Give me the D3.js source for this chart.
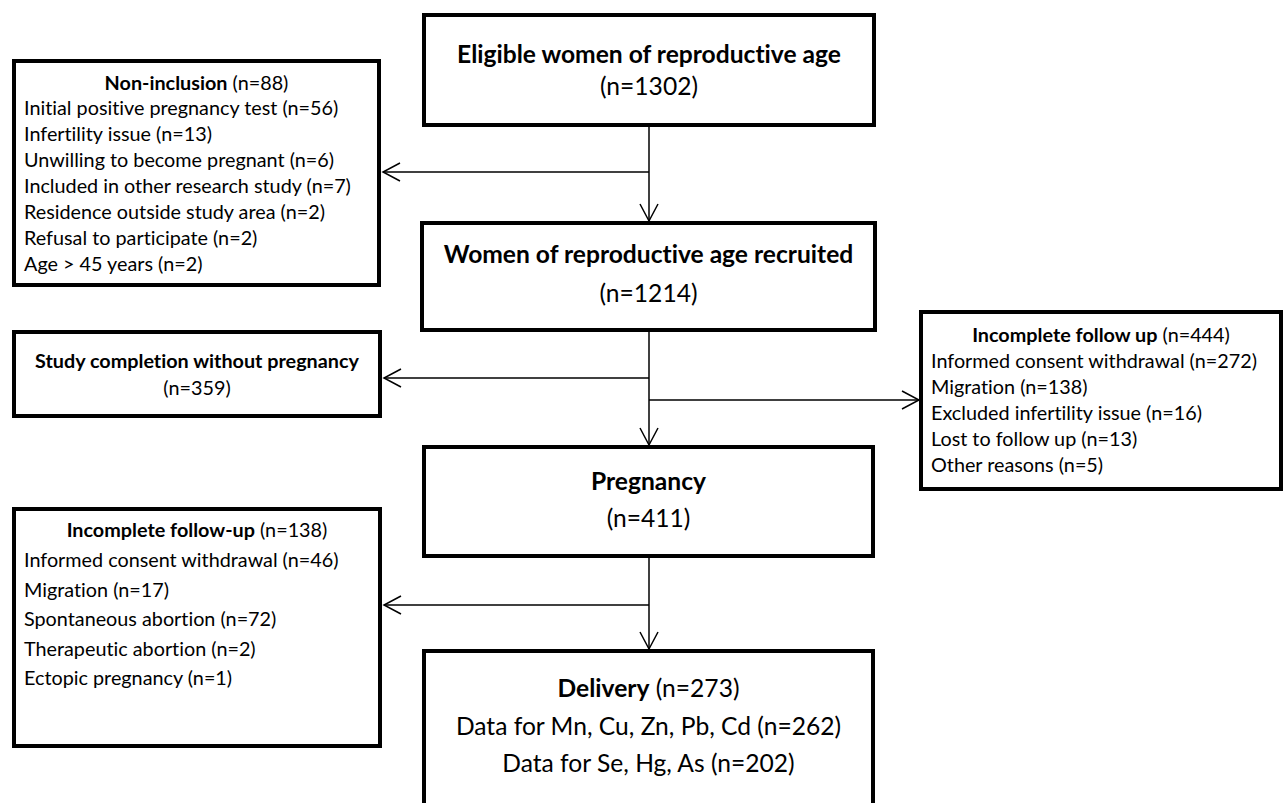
<!DOCTYPE html>
<html>
<head>
<meta charset="utf-8">
<script src="https://cdn.jsdelivr.net/npm/d3@7"></script>
<style>
  body { margin: 0; background: #fff; }
  svg { display: block; }
  text {
    font-family: Lato, "Open Sans", sans-serif;
    fill: #000;
    font-variant-ligatures: none;
    font-feature-settings: "liga" 0, "clig" 0, "dlig" 0;
  }
</style>
</head>
<body>
<div id="flow"></div>
<script>
// Data
var stageLabels = ["Eligible women of reproductive age", "Women of reproductive age recruited", "Pregnancy", "Delivery"];
var stageCounts = [1302, 1214, 411, 273];
var deliveryDataLabels = ["Data for Mn, Cu, Zn, Pb, Cd", "Data for Se, Hg, As"];
var deliveryDataCounts = [262, 202];

var exitTitles = ["Non-inclusion", "Study completion without pregnancy", "Incomplete follow up", "Incomplete follow-up"];
var exitCounts = [88, 359, 444, 138];

var nonInclusionReasons = ["Initial positive pregnancy test", "Infertility issue", "Unwilling to become pregnant",
  "Included in other research study", "Residence outside study area", "Refusal to participate", "Age > 45 years"];
var nonInclusionCounts = [56, 13, 6, 7, 2, 2, 2];

var followUpReasons = ["Informed consent withdrawal", "Migration", "Excluded infertility issue", "Lost to follow up", "Other reasons"];
var followUpCounts = [272, 138, 16, 13, 5];

var pregnancyReasons = ["Informed consent withdrawal", "Migration", "Spontaneous abortion", "Therapeutic abortion", "Ectopic pregnancy"];
var pregnancyCounts = [46, 17, 72, 2, 1];

var svgWidth = 1288;
var svgHeight = 803;

var svg = d3.select("#flow")
  .append("svg")
  .attr("width", svgWidth)
  .attr("height", svgHeight);

var nText = function (n) { return "(n=" + n + ")"; };

// Layout of the boxes (stroke centre lines)
var spineX = 649;
var stageBoxes = [
  { x0: 424, y0: 15, x1: 874, y1: 125, lines: [63, 95] },
  { x0: 422, y0: 223, x1: 875, y1: 330, lines: [263, 302] },
  { x0: 424, y0: 447, x1: 873, y1: 556, lines: [490, 527] },
  { x0: 424, y0: 651, x1: 873, y1: 830, lines: [697, 735, 772] }
];
var exitBoxes = [
  { x0: 14, y0: 61, x1: 379, y1: 285, title: 90, first: 115, step: 26, textX: 24, reasons: nonInclusionReasons, counts: nonInclusionCounts },
  { x0: 14, y0: 332, x1: 380, y1: 416, title: 368, first: 395, step: 0, textX: 0, reasons: null, counts: null },
  { x0: 921, y0: 312, x1: 1281, y1: 489, title: 342, first: 368, step: 26, textX: 931, reasons: followUpReasons, counts: followUpCounts },
  { x0: 14, y0: 509, x1: 380, y1: 746, title: 537, first: 567, step: 29.5, textX: 24, reasons: pregnancyReasons, counts: pregnancyCounts }
];

var bigSize = 24.6;
var smallSize = 19.8;

// Connectors: vertical spine segments with side branches
var links = [
  { from: 0, to: 1, branches: [{ y: 172, x: 383 }] },
  { from: 1, to: 2, branches: [{ y: 378, x: 384 }, { y: 400, x: 919 }] },
  { from: 2, to: 3, branches: [{ y: 605, x: 384 }] }
];

var lineGroup = svg.append("g")
  .attr("fill", "none")
  .attr("stroke", "#000")
  .attr("stroke-width", 1.5);

function arrowHead(x, y, dir) {
  // open V arrow, tip at (x, y)
  var len = 17, half = 9;
  var p = d3.path();
  if (dir === "down") {
    p.moveTo(x - half, y - len); p.lineTo(x, y); p.lineTo(x + half, y - len);
  } else if (dir === "left") {
    p.moveTo(x + len, y - half); p.lineTo(x, y); p.lineTo(x + len, y + half);
  } else {
    p.moveTo(x - len, y - half); p.lineTo(x, y); p.lineTo(x - len, y + half);
  }
  return p.toString();
}

links.forEach(function (l) {
  var top = stageBoxes[l.from].y1 + 2;
  var bottom = stageBoxes[l.to].y0 - 2;
  lineGroup.append("line")
    .attr("x1", spineX).attr("x2", spineX)
    .attr("y1", top).attr("y2", bottom);
  lineGroup.append("path").attr("d", arrowHead(spineX, bottom, "down"));

  l.branches.forEach(function (b) {
    lineGroup.append("line")
      .attr("x1", spineX).attr("x2", b.x)
      .attr("y1", b.y).attr("y2", b.y);
    lineGroup.append("path").attr("d", arrowHead(b.x, b.y, b.x < spineX ? "left" : "right"));
  });
});

// Boxes
var allBoxes = stageBoxes.concat(exitBoxes);
svg.append("g")
  .selectAll("rect")
  .data(allBoxes)
  .enter()
  .append("rect")
  .attr("x", d => d.x0)
  .attr("y", d => d.y0)
  .attr("width", d => d.x1 - d.x0)
  .attr("height", d => d.y1 - d.y0)
  .attr("fill", "#fff")
  .attr("stroke", "#000")
  .attr("stroke-width", 4);

// Stage text
var stageText = svg.append("g").attr("text-anchor", "middle");
stageBoxes.forEach(function (b, i) {
  var cx = (b.x0 + b.x1) / 2;
  if (i < 3) {
    stageText.append("text")
      .attr("x", cx).attr("y", b.lines[0])
      .attr("font-size", bigSize).attr("font-weight", 700)
      .text(stageLabels[i]);
    stageText.append("text")
      .attr("x", cx).attr("y", b.lines[1])
      .attr("font-size", bigSize)
      .text(nText(stageCounts[i]));
  } else {
    var t = stageText.append("text")
      .attr("x", cx).attr("y", b.lines[0])
      .attr("font-size", bigSize);
    t.append("tspan").attr("font-weight", 700).text(stageLabels[i]);
    t.append("tspan").text(" " + nText(stageCounts[i]));
    deliveryDataLabels.forEach(function (lab, j) {
      stageText.append("text")
        .attr("x", cx).attr("y", b.lines[j + 1])
        .attr("font-size", bigSize)
        .text(lab + " " + nText(deliveryDataCounts[j]));
    });
  }
});

// Exit box text
var exitText = svg.append("g").attr("font-size", smallSize);
exitBoxes.forEach(function (b, i) {
  var cx = (b.x0 + b.x1) / 2;
  if (b.reasons) {
    var t = exitText.append("text")
      .attr("x", cx).attr("y", b.title)
      .attr("text-anchor", "middle");
    t.append("tspan").attr("font-weight", 700).text(exitTitles[i]);
    t.append("tspan").text(" " + nText(exitCounts[i]));

    exitText.selectAll(null)
      .data(b.reasons)
      .enter()
      .append("text")
      .attr("x", b.textX)
      .attr("y", (d, j) => b.first + j * b.step)
      .text((d, j) => d + " " + nText(b.counts[j]));
  } else {
    exitText.append("text")
      .attr("x", cx).attr("y", b.title)
      .attr("text-anchor", "middle")
      .attr("font-weight", 700)
      .text(exitTitles[i]);
    exitText.append("text")
      .attr("x", cx).attr("y", b.first)
      .attr("text-anchor", "middle")
      .text(nText(exitCounts[i]));
  }
});
</script>
</body>
</html>
